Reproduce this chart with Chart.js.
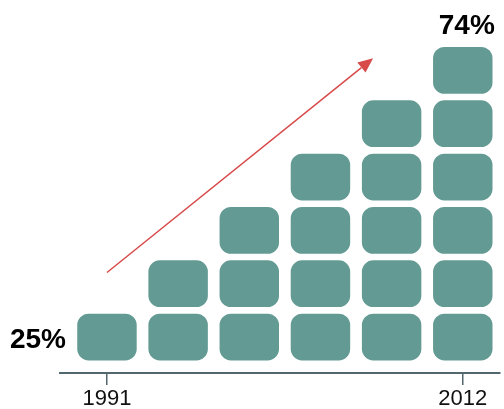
<!DOCTYPE html>
<html>
<head>
<meta charset="utf-8">
<script src="https://cdn.jsdelivr.net/npm/chart.js@4"></script>
<style>
  body { margin: 0; background: #fff; }
  #wrap { width: 504px; height: 409px; position: relative; }
</style>
</head>
<body>
<div id="wrap"><canvas id="blocksChart"></canvas></div>
<script>
// one column per period, blocks stacked up in each
const columns = ['1991', '', '', '', '', '2012'];
const blockCounts = [1, 2, 3, 4, 5, 6];
const startLabel = '25%';
const endLabel = '74%';
// arrow from [column, level] to [column, level]
const arrowFrom = [0, 1.71];
const arrowTo = [3.74, 5.73];

const blockColor = '#639b94';
const axisColor = '#52676e';
const arrowColor = '#d84a4a';
const fontFamily = '"Liberation Sans", Arial, Helvetica, sans-serif';

// one dataset per row of blocks
const levels = Math.max(...blockCounts);
const datasets = [];
for (let k = 0; k < levels; k++) {
  datasets.push({
    data: blockCounts.map((n, i) => ({ x: i, y: n > k ? 1 : null })),
    backgroundColor: blockColor,
    borderColor: 'rgba(0,0,0,0)',
    borderWidth: 3.6,
    borderSkipped: false,
    borderRadius: { topLeft: 15, topRight: 15, bottomLeft: 15, bottomRight: 15 },
    barThickness: 66
  });
}

const extras = {
  id: 'extras',
  afterDatasetsDraw(chart) {
    const ctx = chart.ctx;
    const xs = chart.scales.x;
    const ys = chart.scales.y;

    // percentage labels at both ends
    ctx.save();
    ctx.fillStyle = '#000';
    ctx.font = 'bold 28px ' + fontFamily;
    ctx.textBaseline = 'alphabetic';
    ctx.textAlign = 'right';
    ctx.fillText(startLabel, xs.getPixelForValue(0) - 41, ys.getPixelForValue(0.5) + 11);
    ctx.textAlign = 'center';
    const last = blockCounts.length - 1;
    ctx.fillText(endLabel, xs.getPixelForValue(last) + 4, ys.getPixelForValue(blockCounts[last]) - 10);

    // trend arrow
    const x1 = xs.getPixelForValue(arrowFrom[0]), y1 = ys.getPixelForValue(arrowFrom[1]);
    const x2 = xs.getPixelForValue(arrowTo[0]), y2 = ys.getPixelForValue(arrowTo[1]);
    const ang = Math.atan2(y2 - y1, x2 - x1);
    const headLen = 15, headHalf = 6.5;
    const bx = x2 - headLen * Math.cos(ang), by = y2 - headLen * Math.sin(ang);
    ctx.strokeStyle = arrowColor;
    ctx.fillStyle = arrowColor;
    ctx.lineWidth = 1.5;
    ctx.beginPath();
    ctx.moveTo(x1, y1);
    ctx.lineTo(bx, by);
    ctx.stroke();
    ctx.beginPath();
    ctx.moveTo(x2, y2);
    ctx.lineTo(bx + headHalf * Math.sin(ang), by - headHalf * Math.cos(ang));
    ctx.lineTo(bx - headHalf * Math.sin(ang), by + headHalf * Math.cos(ang));
    ctx.closePath();
    ctx.fill();
    ctx.restore();
  }
};

new Chart(document.getElementById('blocksChart'), {
  type: 'bar',
  data: { datasets },
  options: {
    responsive: true,
    maintainAspectRatio: false,
    animation: false,
    layout: { padding: { left: 60, right: 4, top: 0, bottom: 0 } },
    plugins: { legend: { display: false }, tooltip: { enabled: false } },
    scales: {
      x: {
        type: 'linear',
        stacked: true,
        min: -0.66,
        max: 5.523,
        offset: false,
        afterBuildTicks(scale) {
          scale.ticks = columns
            .map((c, i) => ({ value: i, label: c }))
            .filter(t => t.label !== '');
        },
        afterFit(scale) { scale.height = 36; },
        ticks: {
          autoSkip: false,
          maxRotation: 0,
          padding: 1,
          color: '#111',
          font: { family: fontFamily, size: 22, lineHeight: 1.2 },
          callback: (value) => columns[value]
        },
        grid: {
          drawOnChartArea: false,
          drawTicks: true,
          tickLength: 12,
          offset: false,
          color: axisColor,
          lineWidth: 1.5
        },
        border: { display: true, color: axisColor, width: 2 }
      },
      y: {
        stacked: true,
        display: false,
        min: -0.174,
        max: 6.82
      }
    }
  },
  plugins: [extras]
});
</script>
</body>
</html>
